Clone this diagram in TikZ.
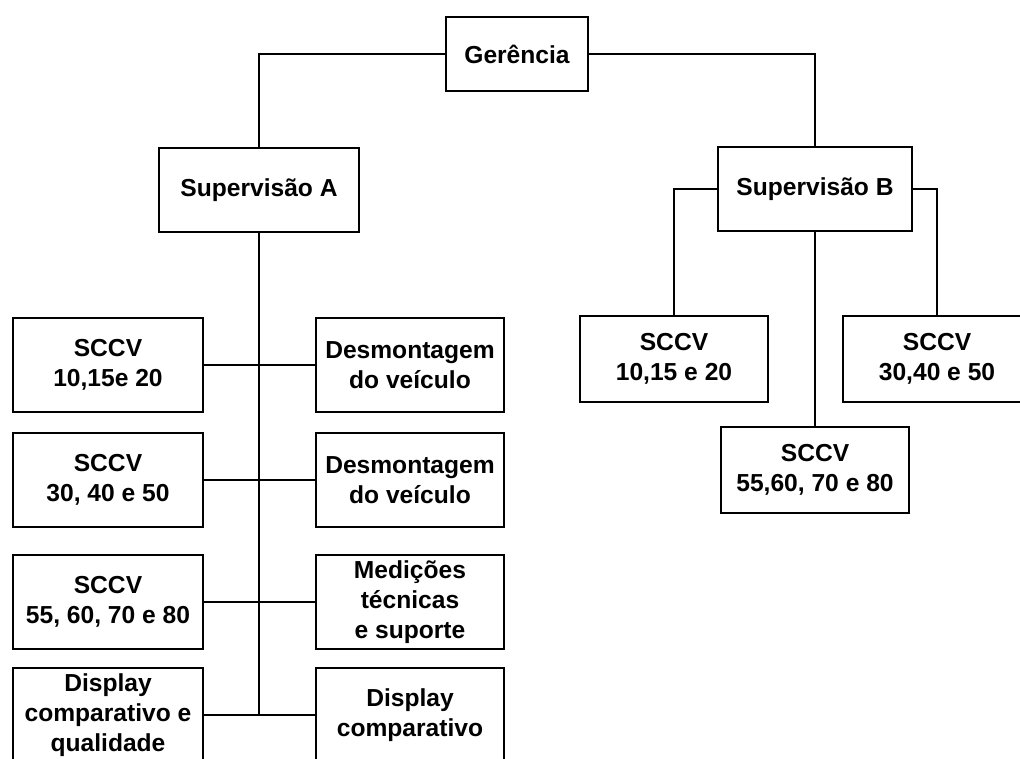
\documentclass[tikz,border=0pt]{standalone}
\usepackage{fontspec}
\setmainfont{Liberation Sans}
\usetikzlibrary{positioning}

\tikzset{
  box/.style={draw, line width=1pt, align=center, inner sep=2pt,
    font=\fontsize{14}{17}\selectfont\bfseries},
  link/.style={line width=1pt}
}

\begin{document}
\begin{tikzpicture}[x=0.02cm, y=-0.02cm]
		%%%%% START %%%%%
		\useasboundingbox (0, 0) rectangle (1020, 758);
		\clip (0, 0) rectangle (1020, 758);
		
		\node[box, minimum width=2.84cm, minimum height=1.48cm] (ger) at (517, 54) {Gerência};
		
		\node[box, minimum width=4cm, minimum height=1.68cm] (supa) at (259, 190) {Supervisão A};
		\node[box, minimum width=3.88cm, minimum height=1.68cm] (supb) at (815, 189) {Supervisão B};
		
		\node[box, minimum width=3.76cm, minimum height=1.72cm] (b1) at (674, 359) {SCCV\\10,15 e 20};
		\node[box, minimum width=3.76cm, minimum height=1.72cm] (b2) at (815, 470) {SCCV\\55,60, 70 e 80};
		\node[box, minimum width=3.76cm, minimum height=1.72cm] (b3) at (937, 359) {SCCV\\30,40 e 50};
		
		\node[box, minimum width=3.8cm, minimum height=1.88cm] (l1) at (108, 365) {SCCV\\10,15e 20};
		\node[box, minimum width=3.8cm, minimum height=1.88cm] (l2) at (108, 480) {SCCV\\30, 40 e 50};
		\node[box, minimum width=3.8cm, minimum height=1.88cm] (l3) at (108, 602) {SCCV\\55, 60, 70 e 80};
		\node[box, minimum width=3.8cm, minimum height=1.88cm] (l4) at (108, 715) {Display\\comparativo e\\qualidade};
		
		\node[box, minimum width=3.76cm, minimum height=1.88cm] (r1) at (410, 365) {Desmontagem\\do veículo};
		\node[box, minimum width=3.76cm, minimum height=1.88cm] (r2) at (410, 480) {Desmontagem\\do veículo};
		\node[box, minimum width=3.76cm, minimum height=1.88cm] (r3) at (410, 602) {Medições\\técnicas\\e suporte};
		\node[box, minimum width=3.76cm, minimum height=1.88cm] (r4) at (410, 715) {Display\\comparativo};
		
		% top level
		\draw[link] (ger.west) -| (supa.north);
		\draw[link] (ger.east) -| (supb.north);
		
		% Supervisao B
		\draw[link] (supb.west) -| (b1.north);
		\draw[link] (supb.east) -| (b3.north);
		\draw[link] (supb.south) -- (b2.north);
		
		% Supervisao A
		\coordinate (trunk) at (supa.south |- l4.east);
		\draw[link] (supa.south) -- (trunk);
		\draw[link] (l1.east) -- (r1.west);
		\draw[link] (l2.east) -- (r2.west);
		\draw[link] (l3.east) -- (r3.west);
		\draw[link] (l4.east) -- (r4.west);
		%%%%% END %%%%%
	\end{tikzpicture}
\end{document}
